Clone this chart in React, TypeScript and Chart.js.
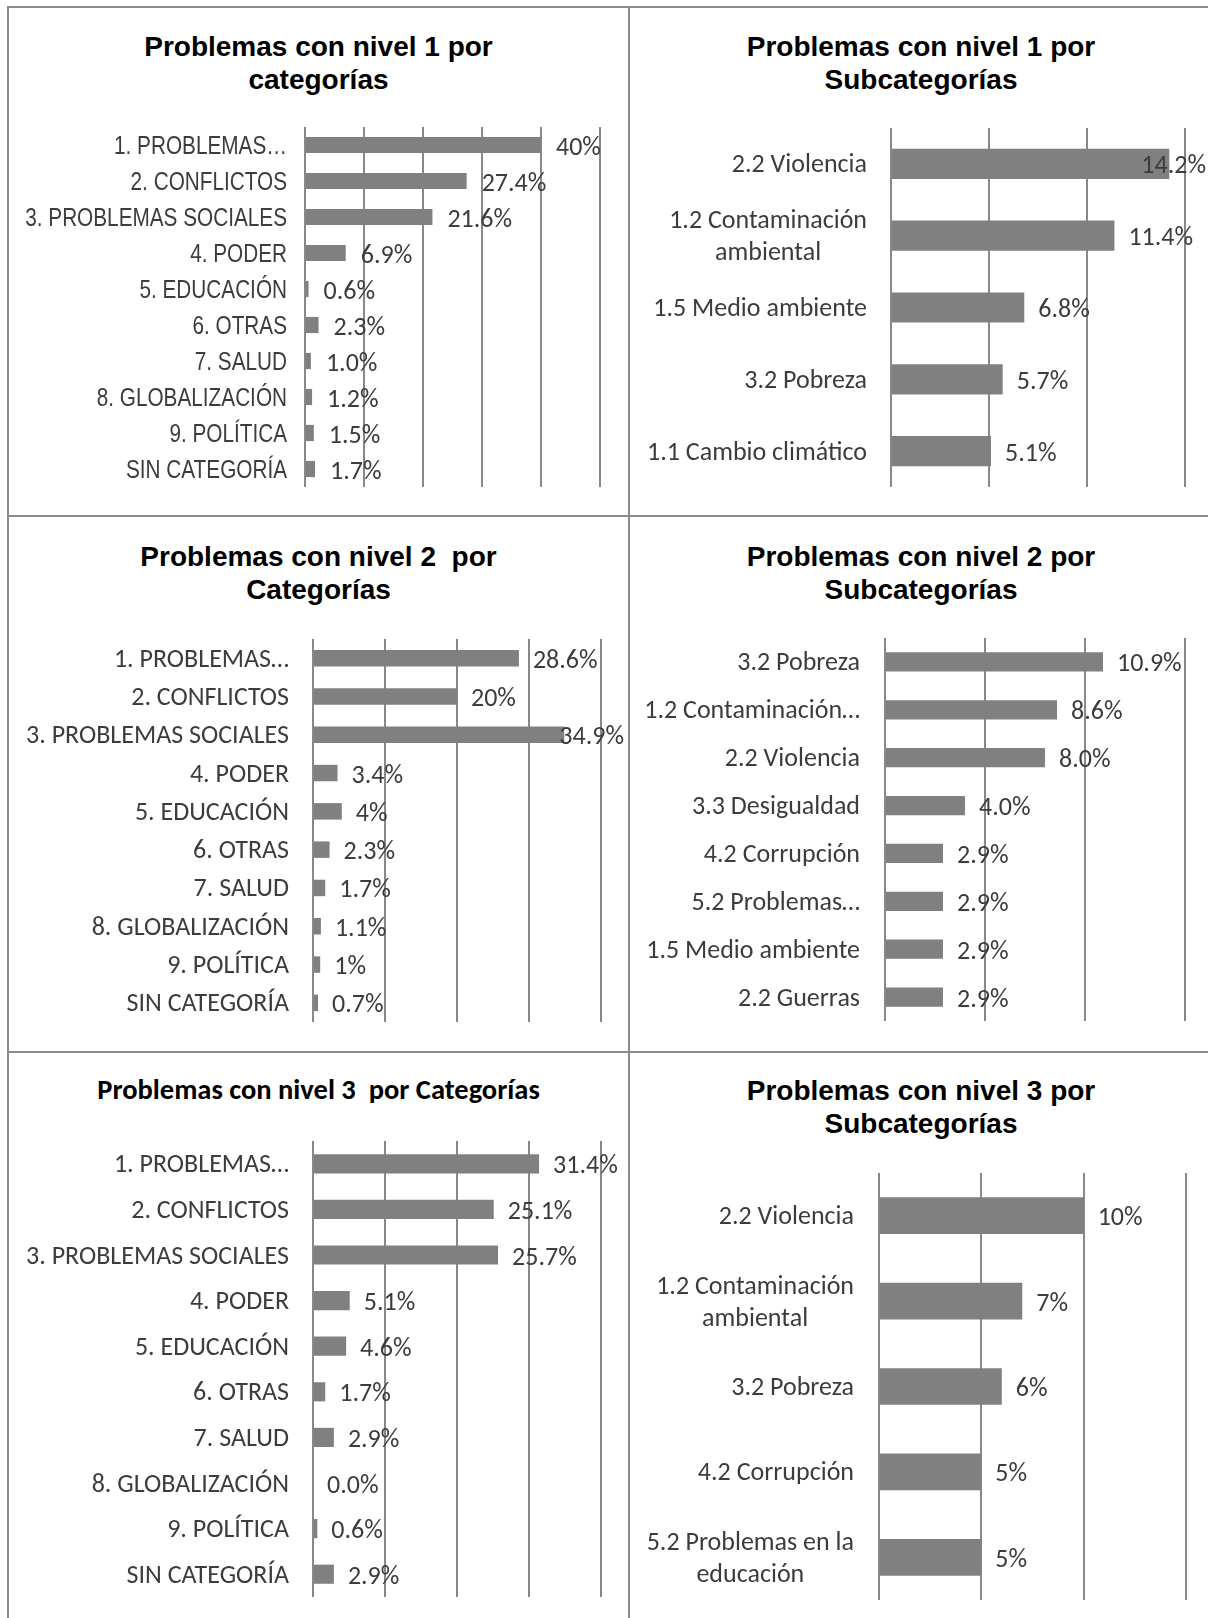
import React, { useEffect, useRef } from "react";
import { Chart, registerables } from "chart.js";

Chart.register(...registerables);

// ---------------- DATA ----------------
const n1CatLabels = [
  "1. PROBLEMAS…",
  "2. CONFLICTOS",
  "3. PROBLEMAS SOCIALES",
  "4. PODER",
  "5. EDUCACIÓN",
  "6. OTRAS",
  "7. SALUD",
  "8. GLOBALIZACIÓN",
  "9. POLÍTICA",
  "SIN CATEGORÍA",
];
const n1CatValues = [40, 27.4, 21.6, 6.9, 0.6, 2.3, 1.0, 1.2, 1.5, 1.7];
const n1CatTexts = ["40%", "27.4%", "21.6%", "6.9%", "0.6%", "2.3%", "1.0%", "1.2%", "1.5%", "1.7%"];

const n1SubLabels: (string | string[])[] = [
  "2.2 Violencia",
  ["1.2 Contaminación", "ambiental"],
  "1.5 Medio ambiente",
  "3.2 Pobreza",
  "1.1 Cambio climático",
];
const n1SubValues = [14.2, 11.4, 6.8, 5.7, 5.1];
const n1SubTexts = ["14.2%", "11.4%", "6.8%", "5.7%", "5.1%"];

const n2CatLabels = [
  "1. PROBLEMAS…",
  "2. CONFLICTOS",
  "3. PROBLEMAS SOCIALES",
  "4. PODER",
  "5. EDUCACIÓN",
  "6. OTRAS",
  "7. SALUD",
  "8. GLOBALIZACIÓN",
  "9. POLÍTICA",
  "SIN CATEGORÍA",
];
const n2CatValues = [28.6, 20, 34.9, 3.4, 4, 2.3, 1.7, 1.1, 1, 0.7];
const n2CatTexts = ["28.6%", "20%", "34.9%", "3.4%", "4%", "2.3%", "1.7%", "1.1%", "1%", "0.7%"];

const n2SubLabels = [
  "3.2 Pobreza",
  "1.2 Contaminación…",
  "2.2 Violencia",
  "3.3 Desigualdad",
  "4.2 Corrupción",
  "5.2 Problemas…",
  "1.5 Medio ambiente",
  "2.2 Guerras",
];
const n2SubValues = [10.9, 8.6, 8.0, 4.0, 2.9, 2.9, 2.9, 2.9];
const n2SubTexts = ["10.9%", "8.6%", "8.0%", "4.0%", "2.9%", "2.9%", "2.9%", "2.9%"];

const n3CatLabels = [
  "1. PROBLEMAS…",
  "2. CONFLICTOS",
  "3. PROBLEMAS SOCIALES",
  "4. PODER",
  "5. EDUCACIÓN",
  "6. OTRAS",
  "7. SALUD",
  "8. GLOBALIZACIÓN",
  "9. POLÍTICA",
  "SIN CATEGORÍA",
];
const n3CatValues = [31.4, 25.1, 25.7, 5.1, 4.6, 1.7, 2.9, 0.0, 0.6, 2.9];
const n3CatTexts = ["31.4%", "25.1%", "25.7%", "5.1%", "4.6%", "1.7%", "2.9%", "0.0%", "0.6%", "2.9%"];

const n3SubLabels: (string | string[])[] = [
  "2.2 Violencia",
  ["1.2 Contaminación", "ambiental"],
  "3.2 Pobreza",
  "4.2 Corrupción",
  ["5.2 Problemas en la", "educación"],
];
const n3SubValues = [10, 7, 6, 5, 5];
const n3SubTexts = ["10%", "7%", "6%", "5%", "5%"];

const titles = {
  t1: ["Problemas con nivel 1 por", "categorías"],
  t2: ["Problemas con nivel 1 por", "Subcategorías"],
  t3: ["Problemas con nivel 2  por", "Categorías"],
  t4: ["Problemas con nivel 2 por", "Subcategorías"],
  t5: ["Problemas con nivel 3  por Categorías"],
  t6: ["Problemas con nivel 3 por", "Subcategorías"],
};

// ---------------- STYLE ----------------
const CAL = "Carlito, Calibri, Lato, sans-serif";
const ARIAL = "'Liberation Sans', Arial, sans-serif";
const BAR = "#808080";
const GRID = "#888888";
const TEXT = "#3c3c3c";
const LINE = "#8a8a8a";

type Spec = {
  left: number;
  top: number;
  width: number;
  height: number;
  pad: { left: number; right: number; top: number; bottom: number };
  max: number;
  step: number;
  labels: (string | string[])[];
  values: number[];
  texts: string[];
  labelFont: string;
  labelScaleX: number;
  labelGap: number;
  lineHeight: number;
  valueFont: string;
  valueGap: number;
  barPct: number;
};

function BarPanel({ spec }: { spec: Spec }) {
  const ref = useRef<HTMLCanvasElement>(null);
  useEffect(() => {
    const canvas = ref.current!;
    const labelPlugin = {
      id: "customLabels",
      afterDatasetsDraw(chart: any) {
        const ctx = chart.ctx as CanvasRenderingContext2D;
        const yScale = chart.scales.y;
        const sx = spec.labelScaleX;
        ctx.save();
        ctx.fillStyle = TEXT;
        ctx.textBaseline = "middle";
        ctx.font = spec.labelFont;
        ctx.textAlign = "center";
        spec.labels.forEach((lab, i) => {
          const lines = Array.isArray(lab) ? lab : [lab];
          const cy = yScale.getPixelForValue(i);
          const right = chart.chartArea.left - spec.labelGap;
          const w = Math.max(...lines.map((l) => ctx.measureText(l).width)) * sx;
          const cx = right - w / 2;
          lines.forEach((l, k) => {
            const ly = cy + (k - (lines.length - 1) / 2) * spec.lineHeight + 2;
            ctx.save();
            ctx.translate(cx, ly);
            ctx.scale(sx, 1);
            ctx.fillText(l, 0, 0);
            ctx.restore();
          });
        });
        ctx.font = spec.valueFont;
        ctx.textAlign = "left";
        const meta = chart.getDatasetMeta(0);
        meta.data.forEach((bar: any, i: number) => {
          const t = spec.texts[i];
          const w = ctx.measureText(t).width;
          let tx = bar.x + spec.valueGap;
          if (tx + w > chart.width - 2) tx = chart.width - 2 - w;
          ctx.fillText(t, tx, bar.y + 3);
        });
        ctx.restore();
      },
    };
    const chart = new Chart(canvas, {
      type: "bar",
      data: {
        labels: spec.labels.map((l) => (Array.isArray(l) ? l.join(" ") : l)),
        datasets: [
          {
            data: spec.values,
            backgroundColor: BAR,
            borderWidth: 0,
            barPercentage: spec.barPct,
            categoryPercentage: 1,
          },
        ],
      },
      options: {
        indexAxis: "y",
        responsive: false,
        maintainAspectRatio: false,
        animation: false,
        layout: { padding: spec.pad },
        plugins: { legend: { display: false }, tooltip: { enabled: false } },
        scales: {
          x: {
            min: 0,
            max: spec.max,
            ticks: { display: false, stepSize: spec.step },
            grid: { color: GRID, lineWidth: 2, drawTicks: false },
            border: { display: false },
            afterFit: (s: any) => {
              s.height = 0;
            },
          },
          y: { display: false },
        },
      },
      plugins: [labelPlugin],
    } as any);
    return () => chart.destroy();
  }, [spec]);
  return (
    <canvas
      ref={ref}
      width={spec.width}
      height={spec.height}
      style={{ position: "absolute", left: spec.left, top: spec.top, width: spec.width, height: spec.height }}
    />
  );
}

function Title({ lines, left, width, top, font, lineHeight }: { lines: string[]; left: number; width: number; top: number; font: string; lineHeight: number }) {
  return (
    <div
      style={{
        position: "absolute",
        left,
        top,
        width,
        textAlign: "center",
        font,
        lineHeight: lineHeight + "px",
        color: "#000",
        whiteSpace: "pre",
      }}
    >
      {lines.map((l, i) => (
        <div key={i}>{l}</div>
      ))}
    </div>
  );
}

const catFont = "26px " + CAL;
const valFont = "26px " + CAL;

const specs: Spec[] = [
  {
    left: 10, top: 120, width: 616, height: 370,
    pad: { left: 295, right: 26, top: 7, bottom: 3 },
    max: 50, step: 10,
    labels: n1CatLabels, values: n1CatValues, texts: n1CatTexts,
    labelFont: "25px " + ARIAL, labelScaleX: 0.83, labelGap: 18, lineHeight: 32,
    valueFont: valFont, valueGap: 15, barPct: 0.45,
  },
  {
    left: 631, top: 120, width: 577, height: 370,
    pad: { left: 260, right: 23, top: 8, bottom: 3 },
    max: 15, step: 5,
    labels: n1SubLabels, values: n1SubValues, texts: n1SubTexts,
    labelFont: catFont, labelScaleX: 1, labelGap: 24, lineHeight: 32,
    valueFont: valFont, valueGap: 14, barPct: 0.42,
  },
  {
    left: 10, top: 636, width: 616, height: 392,
    pad: { left: 303, right: 25, top: 3, bottom: 6 },
    max: 40, step: 10,
    labels: n2CatLabels, values: n2CatValues, texts: n2CatTexts,
    labelFont: catFont, labelScaleX: 1, labelGap: 24, lineHeight: 32,
    valueFont: valFont, valueGap: 14, barPct: 0.43,
  },
  {
    left: 631, top: 636, width: 577, height: 392,
    pad: { left: 254, right: 23, top: 2, bottom: 7 },
    max: 15, step: 5,
    labels: n2SubLabels, values: n2SubValues, texts: n2SubTexts,
    labelFont: catFont, labelScaleX: 1, labelGap: 25, lineHeight: 32,
    valueFont: valFont, valueGap: 14, barPct: 0.4,
  },
  {
    left: 10, top: 1134, width: 616, height: 466,
    pad: { left: 303, right: 25, top: 7, bottom: 3 },
    max: 40, step: 10,
    labels: n3CatLabels, values: n3CatValues, texts: n3CatTexts,
    labelFont: catFont, labelScaleX: 1, labelGap: 24, lineHeight: 32,
    valueFont: valFont, valueGap: 14, barPct: 0.42,
  },
  {
    left: 631, top: 1167, width: 577, height: 440,
    pad: { left: 248, right: 22, top: 6, bottom: 7 },
    max: 15, step: 5,
    labels: n3SubLabels, values: n3SubValues, texts: n3SubTexts,
    labelFont: catFont, labelScaleX: 1, labelGap: 25, lineHeight: 32,
    valueFont: valFont, valueGap: 14, barPct: 0.43,
  },
];

export default function App() {
  const tFont = "bold 28px " + ARIAL;
  const tFontCal = "bold 28.5px " + CAL;
  return (
    <div style={{ position: "absolute", left: 0, top: 0, width: 1208, height: 1618, overflow: "hidden", background: "#fff" }}>
      {/* frame lines */}
      <div style={{ position: "absolute", left: 7, top: 6, width: 1220, height: 2, background: LINE }} />
      <div style={{ position: "absolute", left: 7, top: 6, width: 2, height: 1640, background: LINE }} />
      <div style={{ position: "absolute", left: 628, top: 6, width: 2, height: 1640, background: LINE }} />
      <div style={{ position: "absolute", left: 7, top: 515, width: 1220, height: 2, background: LINE }} />
      <div style={{ position: "absolute", left: 7, top: 1051, width: 1220, height: 2, background: LINE }} />

      <Title lines={titles.t1} left={9} width={619} top={30} font={tFont} lineHeight={33} />
      <Title lines={titles.t2} left={630} width={582} top={30} font={tFont} lineHeight={33} />
      <Title lines={titles.t3} left={9} width={619} top={540} font={tFont} lineHeight={33} />
      <Title lines={titles.t4} left={630} width={582} top={540} font={tFont} lineHeight={33} />
      <Title lines={titles.t5} left={9} width={619} top={1073} font={tFontCal} lineHeight={34} />
      <Title lines={titles.t6} left={630} width={582} top={1074} font={tFont} lineHeight={33} />

      {specs.map((s, i) => (
        <BarPanel key={i} spec={s} />
      ))}
    </div>
  );
}
